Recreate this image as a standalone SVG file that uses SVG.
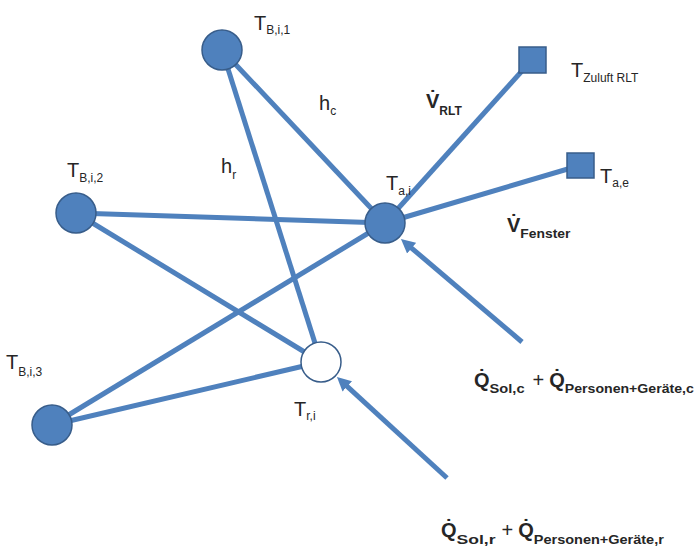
<svg xmlns="http://www.w3.org/2000/svg" width="695" height="557" viewBox="0 0 695 557">
<defs>
<style>
.edge{stroke:#4f81bd;stroke-width:5;fill:none}
.node{fill:#4f81bd;stroke:#385d8a;stroke-width:1.5}
.open{fill:#ffffff;stroke:#385d8a;stroke-width:1.5}
.t{font-family:"Liberation Sans",Arial,sans-serif;fill:#262626}
.big{font-size:20px}
.sub{font-size:12px}
.b{font-weight:bold}
</style>
<marker id="ah" markerUnits="userSpaceOnUse" markerWidth="16" markerHeight="16" viewBox="0 -8 16 16" refX="2" refY="0" orient="auto">
<path d="M0,-7 L14,0 L0,7 Z" fill="#4f81bd"/>
</marker>
</defs>
<rect width="695" height="557" fill="#ffffff"/>
<g id="connectors">
<line class="edge" x1="222" y1="50" x2="385" y2="223"/>
<line class="edge" x1="222" y1="50" x2="321" y2="362"/>
<line class="edge" x1="76" y1="213" x2="385" y2="223"/>
<line class="edge" x1="76" y1="213" x2="321" y2="362"/>
<line class="edge" x1="52" y1="425" x2="385" y2="223"/>
<line class="edge" x1="52" y1="425" x2="321" y2="362"/>
<line class="edge" x1="385" y1="223" x2="530" y2="62"/>
<line class="edge" x1="385" y1="223" x2="578" y2="166"/>
<line class="edge" x1="522" y1="342" x2="410.1" y2="246.8" marker-end="url(#ah)"/>
<line class="edge" x1="447" y1="478" x2="345.8" y2="385.1" marker-end="url(#ah)"/>
</g>
<g id="TBi1">
<circle class="node" cx="222" cy="50" r="20"/>
<text class="t" x="254" y="30"><tspan class="big">T</tspan><tspan class="sub" dy="4">B,i,1</tspan></text>
</g>
<g id="TBi2">
<circle class="node" cx="76" cy="213" r="20"/>
<text class="t" x="67" y="177"><tspan class="big">T</tspan><tspan class="sub" dy="5">B,i,2</tspan></text>
</g>
<g id="TBi3">
<circle class="node" cx="52" cy="425" r="20"/>
<text class="t" x="6" y="369"><tspan class="big">T</tspan><tspan class="sub" dy="7">B,i,3</tspan></text>
</g>
<g id="Tai">
<circle class="node" cx="385" cy="223" r="20"/>
<text class="t" x="386" y="190"><tspan class="big">T</tspan><tspan class="sub" dy="5">a,i</tspan></text>
</g>
<g id="Tri">
<circle class="open" cx="321" cy="362" r="20"/>
<text class="t" x="294" y="416"><tspan class="big">T</tspan><tspan class="sub" dy="4">r,i</tspan></text>
</g>
<g id="TZuluft">
<rect class="node" x="519" y="47" width="27" height="26"/>
<text class="t" x="571" y="77"><tspan class="big">T</tspan><tspan class="sub" dy="5" font-size="13">Zuluft RLT</tspan></text>
</g>
<g id="Tae">
<rect class="node" x="567" y="153" width="27" height="25"/>
<text class="t" x="600" y="183"><tspan class="big">T</tspan><tspan class="sub" dy="4" font-size="13">a,e</tspan></text>
</g>
<g id="labels">
<text class="t" x="319" y="110"><tspan class="big">h</tspan><tspan class="sub" dy="5">c</tspan></text>
<text class="t" x="221" y="173"><tspan class="big">h</tspan><tspan class="sub" dy="6">r</tspan></text>
<text class="t b" x="426" y="108"><tspan class="big">V&#x307;</tspan><tspan class="sub" dy="7">RLT</tspan></text>
<text class="t b" x="507" y="232"><tspan class="big">V&#x307;</tspan><tspan class="sub" dy="6" font-size="11" textLength="50" lengthAdjust="spacingAndGlyphs">Fenster</tspan></text>
<text class="t b" x="474" y="387"><tspan class="big">Q&#x307;</tspan><tspan class="sub" dy="6" textLength="35" lengthAdjust="spacingAndGlyphs">Sol,c</tspan><tspan class="big" font-weight="normal" dx="8" dy="-6">+</tspan><tspan class="big" dx="5">Q&#x307;</tspan><tspan class="sub" dy="6" textLength="129" lengthAdjust="spacingAndGlyphs">Personen+Geräte,c</tspan></text>
<text class="t b" x="441" y="537"><tspan class="big">Q&#x307;</tspan><tspan class="sub" dy="7" textLength="39" lengthAdjust="spacingAndGlyphs">Sol,r</tspan><tspan class="big" font-weight="normal" dx="6" dy="-7">+</tspan><tspan class="big" dx="5">Q&#x307;</tspan><tspan class="sub" dy="7" textLength="130" lengthAdjust="spacingAndGlyphs">Personen+Geräte,r</tspan></text>
</g>
</svg>
